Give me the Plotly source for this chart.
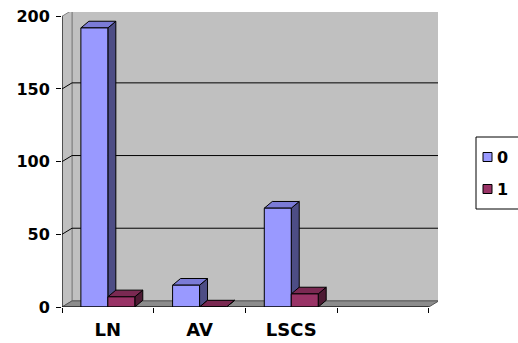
import plotly.graph_objects as go

# Chart data
categories = ["LN", "AV", "LSCS"]
series_names = ["0", "1"]
values_0 = [192, 15, 68]
values_1 = [7, 0, 9]
y_ticks = [0, 50, 100, 150, 200]

# Face colours: front, top, side for each series
FRONT = ["#9999FF", "#993366"]
TOP = ["#7B7BD6", "#7A2952"]
SIDE = ["#4D4D85", "#4D1A33"]
WALL = "#C0C0C0"
FLOOR = "#8C8C8C"
EDGE = "#808080"

FONT = "DejaVu Sans"

n_slots = 4            # three labelled categories plus one empty slot
bar_w = 0.294          # width of each bar front face (category units)
wall_dx, wall_dy = 0.109, 4.2   # depth offset of the back wall
bar_dx, bar_dy = 0.087, 4.6     # depth offset of each bar
y_top = 200
x_lo, x_hi = -0.5, n_slots - 0.5

# Plot-area pixel geometry
W, H = 518, 343
L, R, T, B = 62, 80, 12, 36
PW, PH = W - L - R, H - T - B
X_PX_PER_UNIT = 91.7
Y_PX_PER_UNIT = 1.4535


def px(xpix):
    return (xpix - L) / PW


def py(ypix):
    return (H - B - ypix) / PH


def poly(pts, fill, line="black", width=1, closed=True, layer="below"):
    path = "M " + " L ".join(f"{x},{y}" for x, y in pts) + (" Z" if closed else "")
    d = dict(type="path", path=path, xref="x", yref="y",
             line=dict(color=line, width=width), layer=layer)
    d["fillcolor"] = fill if closed else "rgba(0,0,0,0)"
    return d


shapes = []
# Back wall, side wall and floor
shapes.append(poly([(x_lo + wall_dx, wall_dy), (x_hi + wall_dx, wall_dy),
                    (x_hi + wall_dx, y_top + wall_dy), (x_lo + wall_dx, y_top + wall_dy)],
                   WALL, line=EDGE))
shapes.append(poly([(x_lo, 0), (x_lo, y_top), (x_lo + wall_dx, y_top + wall_dy),
                    (x_lo + wall_dx, wall_dy)], WALL, line=EDGE))
shapes.append(poly([(x_lo, 0), (x_hi, 0), (x_hi + wall_dx, wall_dy),
                    (x_lo + wall_dx, wall_dy)], FLOOR, line="#555555"))

# Gridlines running across the side wall and along the back wall
for v in y_ticks[1:-1]:
    shapes.append(poly([(x_lo, v), (x_lo + wall_dx, v + wall_dy), (x_hi + wall_dx, v + wall_dy)],
                       None, closed=False))

# Top and side faces of every bar
series = [values_0, values_1]
for s, vals in enumerate(series):
    for i, v in enumerate(vals):
        x0 = i - bar_w if s == 0 else i
        x1 = x0 + bar_w
        shapes.append(poly([(x1, 0), (x1, v), (x1 + bar_dx, v + bar_dy), (x1 + bar_dx, bar_dy)],
                           SIDE[s]))
        shapes.append(poly([(x0, v), (x1, v), (x1 + bar_dx, v + bar_dy), (x0 + bar_dx, v + bar_dy)],
                           TOP[s]))

# Axis lines
shapes.append(dict(type="line", xref="x", yref="y", x0=x_lo, x1=x_lo, y0=0, y1=y_top,
                   line=dict(color="black", width=1), layer="above"))
shapes.append(dict(type="line", xref="x", yref="y", x0=x_lo, x1=x_hi, y0=0, y1=0,
                   line=dict(color="black", width=1), layer="above"))

# Legend box with swatches
leg_left, leg_top, leg_bottom = 476, 137, 209
rows = [157, 189]
shapes.append(dict(type="rect", xref="paper", yref="paper",
                   x0=px(leg_left), x1=px(W + 10), y0=py(leg_bottom), y1=py(leg_top),
                   line=dict(color="black", width=1), fillcolor="white", layer="above"))
annotations = []
for s, yc in enumerate(rows):
    shapes.append(dict(type="rect", xref="paper", yref="paper",
                       x0=px(483), x1=px(492), y0=py(yc + 4.5), y1=py(yc - 4.5),
                       line=dict(color="black", width=1), fillcolor=FRONT[s], layer="above"))
    annotations.append(dict(xref="paper", yref="paper", x=px(495), y=py(yc),
                            xanchor="left", yanchor="middle", showarrow=False,
                            text=series_names[s],
                            font=dict(family=FONT, size=16, color="black", weight="bold")))

fig = go.Figure()
for s, vals in enumerate(series):
    fig.add_trace(go.Bar(
        x=list(range(len(categories))), y=vals, name=series_names[s],
        width=bar_w, offset=-bar_w if s == 0 else 0,
        marker=dict(color=FRONT[s], line=dict(color="black", width=1)),
        showlegend=False, hoverinfo="skip",
    ))

fig.update_layout(
    width=W, height=H,
    margin=dict(l=L, r=R, t=T, b=B, pad=0, autoexpand=False),
    paper_bgcolor="white", plot_bgcolor="white",
    barmode="overlay",
    shapes=shapes, annotations=annotations,
    showlegend=False,
    xaxis=dict(
        range=[x_lo, x_lo + PW / X_PX_PER_UNIT],
        tickvals=list(range(len(categories))), ticktext=categories,
        ticks="", showgrid=False, zeroline=False, showline=False,
        tickfont=dict(family=FONT, size=18, color="black", weight="bold"),
        ticklabelstandoff=10,
        minor=dict(tickvals=[x_lo + k for k in range(n_slots + 1)], ticks="outside",
                   ticklen=5, tickcolor="black", tickwidth=1, showgrid=False),
        automargin=False,
        fixedrange=True,
    ),
    yaxis=dict(
        range=[0, PH / Y_PX_PER_UNIT],
        tickvals=y_ticks, ticks="outside", ticklen=5, tickcolor="black", tickwidth=1,
        showgrid=False, zeroline=False, showline=False,
        tickfont=dict(family=FONT, size=16, color="black", weight="bold"),
        ticklabelstandoff=3,
        automargin=False,
        fixedrange=True,
    ),
)

fig.write_html("out.html")
